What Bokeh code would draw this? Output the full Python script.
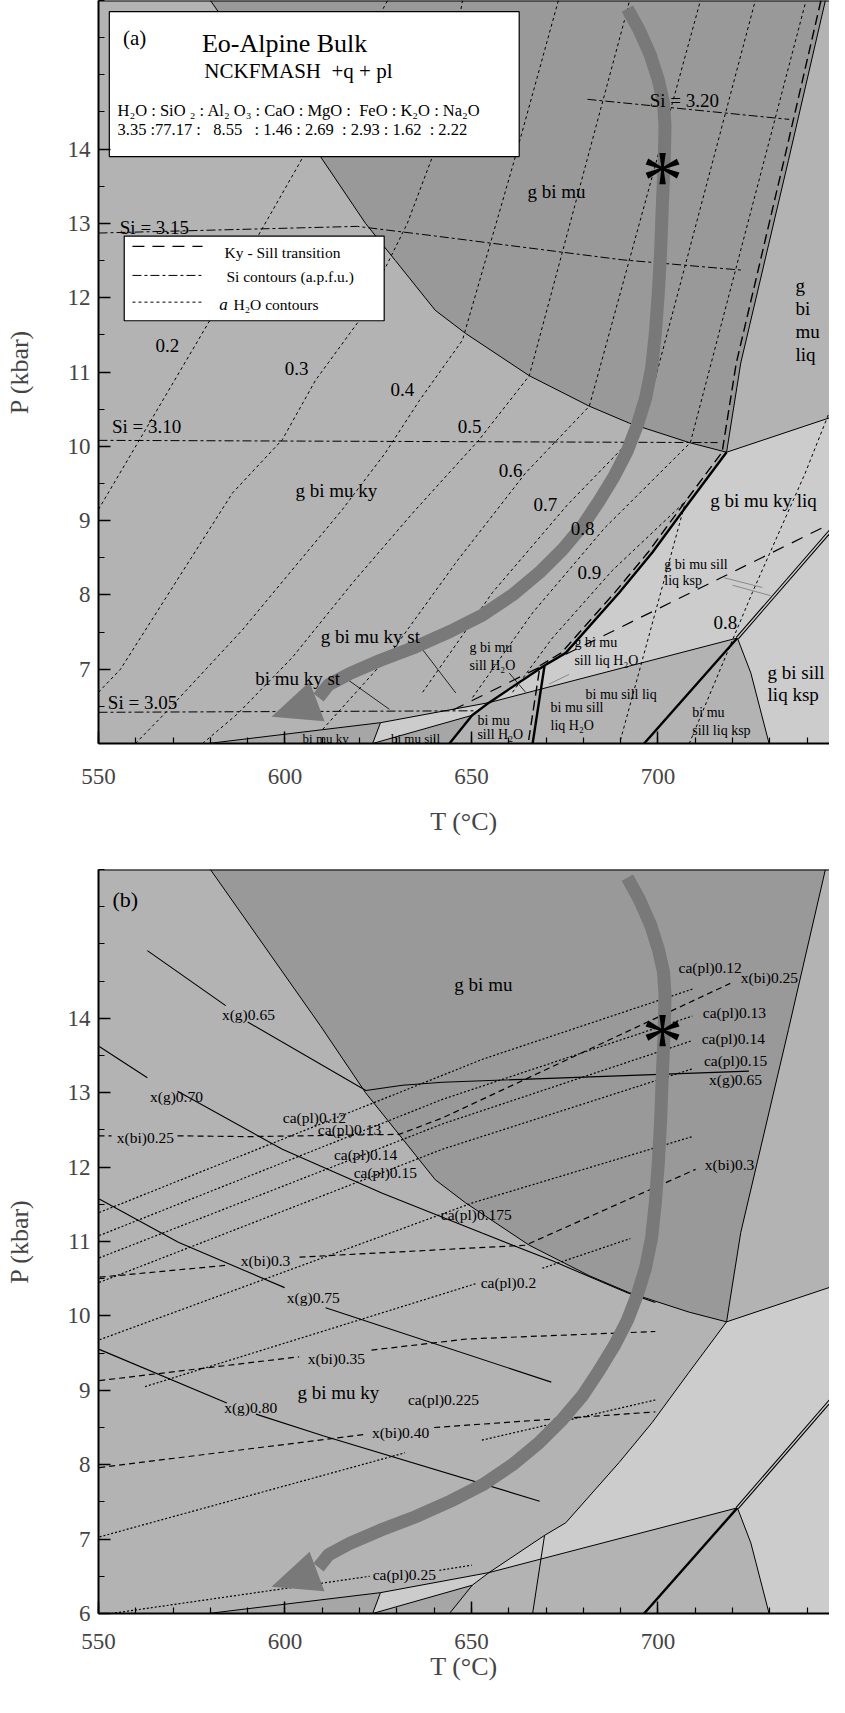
from bokeh.plotting import figure
from bokeh.models import FixedTicker, Span, Range1d
from bokeh.embed import file_html
from bokeh.resources import INLINE
from bokeh.core.properties import value

NaN = float("nan")
FONT = "Liberation Serif"
C_BG = "#b3b3b3"
C_DARK = "#999999"
C_LIGHT = "#cccccc"
C_SMALL = "#a6a6a6"
C_PATH = "#797979"

# ---------------- axes ----------------
T_MAJOR = [550, 600, 650, 700]
T_MINOR = [550, 560, 570, 580, 590, 600, 610, 620, 630, 640, 650, 660, 670, 680, 690, 700, 710, 720, 730, 740, 750]
P_MAJOR_A = [7, 8, 9, 10, 11, 12, 13, 14]
P_MAJOR_B = [6, 7, 8, 9, 10, 11, 12, 13, 14]
P_MINOR = [6, 6.5, 7, 7.5, 8, 8.5, 9, 9.5, 10, 10.5, 11, 11.5, 12, 12.5, 13, 13.5, 14, 14.5, 15, 15.5, 16]

# ---------------- phase-field geometry (T degC, P kbar) ----------------
GBM_T = [580.0, 609.5, 621.6, 629.6, 640.3, 648.4, 665.5, 681.6, 692.4, 708.4, 718.4, 722.2, 735.0, 744.9]
GBM_P = [16.0, 13.90, 13.0, 12.5, 11.83, 11.52, 10.95, 10.54, 10.31, 10.05, 9.92, 11.12, 13.85, 16.0]
CURVE_T = [580.0, 609.5, 621.6, 629.6, 640.3, 648.4, 665.5, 681.6, 692.4, 708.4, 718.4]
CURVE_P = [16.0, 13.90, 13.0, 12.5, 11.83, 11.52, 10.95, 10.54, 10.31, 10.05, 9.92]
RIGHT_T = [718.4, 722.2, 735.0, 744.9]
RIGHT_P = [9.92, 11.12, 13.85, 16.0]
JR_T = [718.4, 750.0]
JR_P = [9.92, 10.45]
LIQB_T = [718.4, 708.3, 698.5, 689.6, 675.3, 669.6]
LIQB_P = [9.92, 9.24, 8.57, 8.03, 7.22, 7.05]
LIQ_T = [718.4, 708.3, 698.5, 689.6, 675.3, 669.6, 668.8, 721.3, 750.0, 750.0]
LIQ_P = [9.92, 9.24, 8.57, 8.03, 7.22, 7.05, 6.73, 7.42, 9.08, 10.45]
KSP_T = [721.3, 750.0, 750.0, 729.8, 724.9]
KSP_P = [7.42, 9.08, 6.0, 6.0, 6.95]
BMKY_T = [579.4, 625.6, 623.5]
BMKY_P = [6.0, 6.28, 6.0]
BMS_T = [623.5, 650.2, 644.1]
BMS_P = [6.0, 6.38, 6.0]
SLV_T = [623.5, 625.6, 654.7, 650.2]
SLV_P = [6.0, 6.28, 6.55, 6.38]
TRI_T = [654.7, 669.6, 668.8]
TRI_P = [6.55, 7.05, 6.73]
LOW_T = [579.4, 625.6, 654.7, 721.3]
LOW_P = [6.0, 6.28, 6.55, 7.42]
SLVB_T = [625.6, 623.5, 650.2]
SLVB_P = [6.28, 6.0, 6.38]
THK1_T = [669.6, 654.7, 650.2, 644.1]
THK1_P = [7.05, 6.55, 6.38, 6.0]
VERT_T = [669.6, 666.4]
VERT_P = [7.05, 6.0]
THK2_T = [721.3, 696.3]
THK2_P = [7.42, 6.0]
DBL_T = [721.3, 750.0]
DBL_P = [7.42, 9.08]
KSPB_T = [721.3, 724.9, 729.8]
KSPB_P = [7.42, 6.95, 6.0]

# ---------------- P-T path ----------------
PATH_T = [691.8, 695.0, 698.0, 700.1, 701.5, 701.9, 701.7, 701.2, 700.7, 700.1, 699.3, 698.3, 696.7,
          694.5, 691.8, 688.3, 684.3, 679.8, 674.4, 668.2, 661.0, 653.0, 644.4, 635.0, 625.6, 617.3,
          611.7, 609.0]
PATH_P = [15.89, 15.60, 15.26, 14.93, 14.62, 14.31, 13.85, 13.27, 12.60, 12.06, 11.52, 11.05, 10.65,
          10.29, 9.94, 9.60, 9.27, 8.93, 8.61, 8.30, 8.00, 7.73, 7.51, 7.30, 7.12, 6.94,
          6.79, 6.62]
HEAD_T = [596.4, 606.6, 610.6]
HEAD_P = [6.36, 6.83, 6.30]
STAR_A = (701.2, 13.84)
STAR_B = (701.2, 13.94)

# ---------------- panel (a): aH2O contours ----------------
AW02_T = [550.0, 579.8, 603.9, 627.5]
AW02_P = [9.15, 11.69, 13.81, 16.0]
AW03_T = [550.0, 555.9, 585.9, 599.3, 608.2, 620.0, 632.8, 640.9, 647.6]
AW03_P = [6.69, 7.0, 9.37, 10.09, 10.89, 11.70, 13.0, 14.08, 16.0]
AW04_T = [559.9, 567.7, 588.6, 615.4, 626.9, 636.1, 647.6, 661.5, 673.3]
AW04_P = [6.0, 6.40, 7.53, 9.15, 9.91, 10.62, 11.43, 13.85, 16.0]
AW05_T = [577.9, 587.3, 602.0, 618.1, 634.2, 652.1, 665.5, 691.0, 692.4]
AW05_P = [6.0, 6.40, 7.16, 8.16, 9.10, 10.09, 10.95, 15.73, 16.0]
AW06_T = [610.1, 627.5, 646.2, 664.5, 681.6, 711.4]
AW06_P = [6.19, 7.16, 8.46, 9.64, 10.54, 16.0]
AW07_T = [636.9, 655.6, 675.7, 695.8, 726.1]
AW07_P = [6.69, 8.03, 9.21, 10.25, 16.0]
AW08_T = [650.3, 666.4, 685.7, 708.7, 739.5]
AW08_P = [6.62, 7.76, 8.90, 10.05, 15.96]
AW09_T = [661.0, 671.7, 687.8, 707.6]
AW09_P = [6.69, 7.42, 8.33, 9.27]
AW09L_T = [707.1, 689.7]
AW09L_P = [9.20, 6.0]
AW08L_T = [748.1, 746.2, 739.5, 725.3, 708.4]
AW08L_P = [10.72, 10.49, 9.64, 8.03, 6.0]
AW_LINES = [(AW02_T, AW02_P), (AW03_T, AW03_P), (AW04_T, AW04_P), (AW05_T, AW05_P),
            (AW06_T, AW06_P), (AW07_T, AW07_P), (AW08_T, AW08_P), (AW09_T, AW09_P),
            (AW09L_T, AW09L_P), (AW08L_T, AW08L_P)]
AW_LAB_T = [568.5, 603.1, 631.5, 649.5, 660.5, 669.8, 679.8, 681.6, 718.1]
AW_LAB_P = [11.35, 11.05, 10.76, 10.27, 9.67, 9.21, 8.90, 8.30, 7.63]
AW_LAB = ["0.2", "0.3", "0.4", "0.5", "0.6", "0.7", "0.8", "0.9", "0.8"]

# Si isopleths of white mica
SI305_T = [550.0, 651.1]
SI305_P = [6.42, 6.44]
SI310_T = [550.0, 716.0]
SI310_P = [10.08, 10.05]
SI315_T = [550.0, 619.4, 640.3, 690.4, 722.7]
SI315_P = [12.87, 12.96, 12.83, 12.51, 12.37]
SI320_T = [681.1, 735.2]
SI320_P = [14.67, 14.40]
SI_LAB_T = [561.8, 562.9, 565.0, 707.1]
SI_LAB_P = [6.55, 10.27, 12.94, 14.66]
SI_LAB = ["Si = 3.05", "Si = 3.10", "Si = 3.15", "Si = 3.20"]

# Ky-Sill transition
KSA_T = [743.7, 733.8, 721.0, 717.2, 707.1, 697.3, 688.4, 674.1, 668.4, 665.2]
KSA_P = [16.0, 13.85, 11.12, 9.92, 9.24, 8.57, 8.03, 7.22, 7.05, 6.0]
KSB_T = [645.0, 750.0]
KSB_P = [6.45, 9.05]

# ---------------- panel (b): isopleths ----------------
XG065_T = [563.1, 584.1, NaN, 590.0, 621.7, 631.5, 642.2, 724.4]
XG065_P = [14.91, 14.17, NaN, 13.95, 13.03, 13.10, 13.14, 13.29]
XG070_T = [550.2, 563.1, NaN, 571.2, 599.3, 626.1, 653.0, 671.7, 691.8, 699.3]
XG070_P = [13.62, 13.20, NaN, 13.02, 12.24, 11.65, 11.11, 10.74, 10.31, 10.18]
XG075_T = [550.2, 571.4, 599.9, NaN, 610.9, 671.4]
XG075_P = [11.57, 10.99, 10.38, NaN, 10.11, 9.11]
XG080_T = [550.2, 584.4, NaN, 592.2, 610.2, 668.3]
XG080_P = [9.55, 8.83, NaN, 8.68, 8.39, 7.51]
XBI025_T = [550.0, 553.5, NaN, 571.2, 590.4, 630.6, 642.2, 719.4]
XBI025_P = [12.42, 12.42, NaN, 12.42, 12.41, 12.44, 12.66, 14.47]
XBI030_T = [550.3, 584.3, NaN, 603.9, 664.5, 710.1]
XBI030_P = [10.52, 10.68, NaN, 10.79, 10.95, 11.97]
XBI035_T = [550.2, 603.8, NaN, 623.2, 648.9, 699.3]
XBI035_P = [9.13, 9.45, NaN, 9.54, 9.69, 9.79]
XBI040_T = [550.2, 621.8, NaN, 640.0, 699.3]
XBI040_P = [7.96, 8.41, NaN, 8.50, 8.71]
CA012_T = [550.2, 653.0, 709.7]
CA012_P = [11.39, 13.45, 14.40]
CA013_T = [550.2, 642.2, 709.2]
CA013_P = [11.08, 12.91, 14.03]
CA014_T = [550.2, 642.2, 709.2]
CA014_P = [10.78, 12.58, 13.70]
CA015_T = [550.2, 642.2, 709.2]
CA015_P = [10.45, 12.24, 13.32]
CA0175_T = [550.3, 650.3, 709.2]
CA0175_P = [9.68, 11.52, 12.41]
CA020_T = [562.5, 651.6, NaN, 669.0, 692.6]
CA020_P = [9.05, 10.44, NaN, 10.64, 11.04]
CA0225_T = [550.3, 632.2, NaN, 652.8, 699.3]
CA0225_P = [7.03, 8.16, NaN, 8.33, 8.87]
CA025_T = [553.4, 622.7, NaN, 641.4, 650.1]
CA025_P = [6.0, 6.50, NaN, 6.58, 6.65]

B_LABELS = [
    (590.2, 14.05, "x(g)0.65"), (720.8, 13.18, "x(g)0.65"), (570.9, 12.95, "x(g)0.70"),
    (607.6, 10.25, "x(g)0.75"), (590.8, 8.77, "x(g)0.80"),
    (562.6, 12.40, "x(bi)0.25"), (729.9, 14.55, "x(bi)0.25"), (594.8, 10.74, "x(bi)0.3"),
    (719.2, 12.03, "x(bi)0.3"), (613.8, 9.43, "x(bi)0.35"), (631.0, 8.43, "x(bi)0.40"),
    (607.9, 12.67, "ca(pl)0.12"), (714.0, 14.68, "ca(pl)0.12"), (617.3, 12.51, "ca(pl)0.13"),
    (720.5, 14.08, "ca(pl)0.13"), (621.6, 12.17, "ca(pl)0.14"), (720.2, 13.73, "ca(pl)0.14"),
    (626.9, 11.93, "ca(pl)0.15"), (720.8, 13.43, "ca(pl)0.15"), (651.3, 11.36, "ca(pl)0.175"),
    (659.9, 10.45, "ca(pl)0.2"), (642.5, 8.88, "ca(pl)0.225"), (632.0, 6.52, "ca(pl)0.25"),
]

A_BIG = [(672.8, 13.43, "g bi mu"), (613.8, 9.41, "g bi mu ky"), (728.3, 9.27, "g bi mu ky liq"),
         (622.9, 7.44, "g bi mu ky st"), (603.4, 6.87, "bi mu ky st")]
A_STACK = [(736.9, 12.16, "g"), (736.9, 11.86, "bi"), (736.9, 11.55, "mu"), (736.9, 11.23, "liq"),
           (729.4, 6.95, "g bi sill"), (729.4, 6.66, "liq ksp")]
A_SMALL = [(701.7, 8.41, "g bi mu sill"), (701.7, 8.19, "liq ksp"),
           (709.2, 6.42, "bi mu"), (709.2, 6.17, "sill liq ksp"),
           (649.5, 7.29, "g bi mu"), (649.5, 7.05, "sill H\u2082O"),
           (677.6, 7.36, "g bi mu"), (677.6, 7.12, "sill liq H\u2082O"),
           (680.6, 6.66, "bi mu sill liq"),
           (671.2, 6.48, "bi mu sill"), (671.2, 6.24, "liq H\u2082O"),
           (651.6, 6.31, "bi mu"), (651.6, 6.12, "sill H\u2082O")]
A_TINY = [(610.9, 6.07, "bi mu ky"), (635.0, 6.07, "bi mu sill")]
LEADERS_T = [[636.2, 645.8], [616.8, 628.0], [660.1, 664.5]]
LEADERS_P = [[7.31, 6.68], [6.86, 6.46], [6.95, 6.69]]
GLEAD_T = [[717.8, 728.0], [720.0, 730.2], [676.2, 670.8]]
GLEAD_P = [[8.23, 8.10], [8.13, 7.99], [6.93, 6.80]]

# legend / composition boxes (panel a)
BOX1 = (552.9, 662.8, 13.90, 15.85)
BOX2 = (556.9, 626.6, 11.69, 12.83)
LEG_X = [559.1, 577.9]
LEG_Y = [12.69, 12.30, 11.94]
COMP_HEAD = "H\u2082O : SiO \u2082 : Al\u2082 O\u2083 : CaO : MgO :\u00a0 FeO : K\u2082O : Na\u2082O"
COMP_VALS = "3.35 :77.17 :\u00a0\u00a0 8.55 \u00a0 : 1.46 : 2.69 \u00a0: 2.93 : 1.62 \u00a0: 2.22"


def make_fig(height, bottom, p_major, xtick_standoff, xlab_standoff):
    p = figure(width=829, height=height, x_range=Range1d(550, 746), y_range=Range1d(6, 16),
               output_backend="svg", toolbar_location=None,
               min_border_left=98, min_border_right=0, min_border_top=0, min_border_bottom=bottom)
    p.background_fill_color = C_BG
    p.border_fill_color = "white"
    p.outline_line_color = None
    p.grid.visible = False
    p.xaxis.ticker = FixedTicker(ticks=T_MAJOR, minor_ticks=T_MINOR)
    p.yaxis.ticker = FixedTicker(ticks=p_major, minor_ticks=P_MINOR)
    for ax in (p.xaxis[0], p.yaxis[0]):
        ax.major_tick_in = 12
        ax.major_tick_out = 0
        ax.minor_tick_in = 6
        ax.minor_tick_out = 0
        ax.axis_line_width = 2
        ax.major_tick_line_width = 1.5
        ax.minor_tick_line_width = 1.2
        ax.major_label_text_font = FONT
        ax.major_label_text_font_size = "23px"
        ax.axis_label_text_font = FONT
        ax.axis_label_text_font_size = "26px"
        ax.axis_label_text_font_style = "normal"
    p.xaxis.axis_label = "T (\u00b0C)"
    p.yaxis.axis_label = "P (kbar)"
    p.xaxis.major_label_standoff = xtick_standoff
    p.yaxis.major_label_standoff = 8
    p.xaxis.axis_label_standoff = xlab_standoff
    p.yaxis.axis_label_standoff = 31
    p.add_layout(Span(location=16, dimension="width", line_color="black", line_width=2))
    return p


def txt(p, items, size, align="center", color="black", style="normal"):
    return p.text(x=[i[0] for i in items], y=[i[1] for i in items], text=[i[2] for i in items],
                  text_font=value(FONT), text_font_size=f"{size}px", text_align=align,
                  text_baseline="middle", text_color=color, text_font_style=style)


def fields(p):
    p.patch(GBM_T, GBM_P, fill_color=C_DARK, line_color=None)
    p.patch(LIQ_T, LIQ_P, fill_color=C_LIGHT, line_color=None)
    p.patch(KSP_T, KSP_P, fill_color=C_LIGHT, line_color=None)
    p.patch(BMKY_T, BMKY_P, fill_color=C_SMALL, line_color=None)
    p.patch(BMS_T, BMS_P, fill_color=C_SMALL, line_color=None)
    p.patch(SLV_T, SLV_P, fill_color=C_LIGHT, line_color=None)
    p.patch(TRI_T, TRI_P, fill_color=C_LIGHT, line_color=None)


def boundaries(p, bold):
    w = 2.4 if bold else 1.0
    for xs, ys in [(CURVE_T, CURVE_P), (RIGHT_T, RIGHT_P), (JR_T, JR_P), (LOW_T, LOW_P),
                   (SLVB_T, SLVB_P), (KSPB_T, KSPB_P)]:
        p.line(xs, ys, line_color="black", line_width=1.0)
    p.line(LIQB_T, LIQB_P, line_color="black", line_width=w)
    p.line(THK1_T, THK1_P, line_color="black", line_width=w)
    p.line(VERT_T, VERT_P, line_color="black", line_width=w)
    p.line(THK2_T, THK2_P, line_color="black", line_width=2.4)
    p.line(DBL_T, DBL_P, line_color="black", line_width=3.6)
    p.line(DBL_T, DBL_P, line_color=C_LIGHT, line_width=1.4)


def path(p, star):
    p.line(PATH_T, PATH_P, line_color=C_PATH, line_width=13, line_join="round")
    p.patch(HEAD_T, HEAD_P, fill_color=C_PATH, line_color=None)
    p.text(x=[star[0]], y=[star[1]], text=["*"], text_font=value(FONT), text_font_size="84px",
           text_align="center", text_baseline="middle", y_offset=20, text_color="black")


# ======================= panel (a) =======================
pa = make_fig(869, 126, P_MAJOR_A, 25, 20)
fields(pa)
for xs, ys in AW_LINES:
    pa.line(xs, ys, line_color="black", line_width=1, line_dash="3 3")
for xs, ys in [(SI305_T, SI305_P), (SI310_T, SI310_P), (SI315_T, SI315_P), (SI320_T, SI320_P)]:
    pa.line(xs, ys, line_color="black", line_width=1, line_dash="9 3 3 3")
boundaries(pa, True)
pa.line(KSA_T, KSA_P, line_color="black", line_width=1.4, line_dash="10 5")
pa.line(KSB_T, KSB_P, line_color="black", line_width=1.2, line_dash="12 9")
pa.multi_line(LEADERS_T, LEADERS_P, line_color="black", line_width=0.8)
pa.multi_line(GLEAD_T, GLEAD_P, line_color="#8a8a8a", line_width=1)
path(pa, STAR_A)
txt(pa, list(zip(AW_LAB_T, AW_LAB_P, AW_LAB)), 19)
txt(pa, list(zip(SI_LAB_T, SI_LAB_P, SI_LAB)), 19)
txt(pa, A_BIG, 19)
txt(pa, A_STACK, 19, align="left")
txt(pa, A_SMALL, 14, align="left")
txt(pa, A_TINY, 13)
# composition box
pa.quad(left=BOX1[0], right=BOX1[1], bottom=BOX1[2], top=BOX1[3], fill_color="white", line_color="black", line_width=1.2)
txt(pa, [(559.7, 15.49, "(a)")], 21)
txt(pa, [(599.9, 15.42, "Eo-Alpine Bulk")], 26)
txt(pa, [(603.6, 15.05, "NCKFMASH\u00a0 +q + pl")], 21)
txt(pa, [(555.1, 14.52, COMP_HEAD), (555.1, 14.27, COMP_VALS)], 16.5, align="left")
# line legend
pa.quad(left=BOX2[0], right=BOX2[1], bottom=BOX2[2], top=BOX2[3], fill_color="white", line_color="black", line_width=1.2)
pa.line(LEG_X, [LEG_Y[0]] * 2, line_color="black", line_width=1.2, line_dash="12 8")
pa.line(LEG_X, [LEG_Y[1]] * 2, line_color="black", line_width=1, line_dash="9 3 3 3")
pa.line(LEG_X, [LEG_Y[2]] * 2, line_color="black", line_width=1, line_dash="3 3")
txt(pa, [(583.8, 12.61, "Ky - Sill transition"), (584.3, 12.28, "Si contours (a.p.f.u.)")], 15.5, align="left")
txt(pa, [(582.4, 11.91, "a")], 17, align="left", style="italic")
txt(pa, [(586.2, 11.91, "H\u2082O contours")], 15.5, align="left")

# ======================= panel (b) =======================
pb = make_fig(820, 76, P_MAJOR_B, 20, 0)
fields(pb)
for xs, ys in [(CA012_T, CA012_P), (CA013_T, CA013_P), (CA014_T, CA014_P), (CA015_T, CA015_P),
               (CA0175_T, CA0175_P), (CA020_T, CA020_P), (CA0225_T, CA0225_P), (CA025_T, CA025_P)]:
    pb.line(xs, ys, line_color="black", line_width=1.2, line_dash="2 2")
for xs, ys in [(XBI025_T, XBI025_P), (XBI030_T, XBI030_P), (XBI035_T, XBI035_P), (XBI040_T, XBI040_P)]:
    pb.line(xs, ys, line_color="black", line_width=1.2, line_dash="6 4")
for xs, ys in [(XG065_T, XG065_P), (XG070_T, XG070_P), (XG075_T, XG075_P), (XG080_T, XG080_P)]:
    pb.line(xs, ys, line_color="black", line_width=1.1)
boundaries(pb, False)
path(pb, STAR_B)
txt(pb, B_LABELS, 15.5)
txt(pb, [(557.2, 15.60, "(b)")], 22)
txt(pb, [(653.2, 14.45, "g bi mu"), (614.3, 8.97, "g bi mu ky")], 19)

# two independent roots stacked on the page
open("out.html", "w").write(file_html([pa, pb], INLINE))
